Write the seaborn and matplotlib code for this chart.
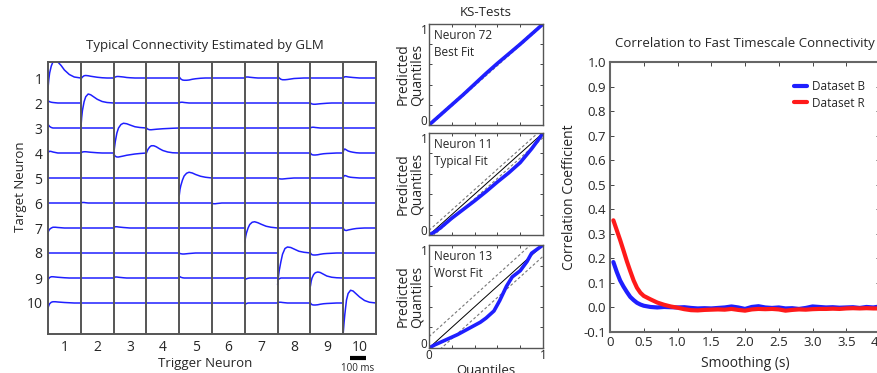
import matplotlib
matplotlib.use('Agg')
import matplotlib.pyplot as plt
import numpy as np
import pandas as pd
import seaborn as sns

# ===== DATA =====
TRIGGER = list(range(1, 11))
TARGET = list(range(1, 11))
COL_MS = 200  # each kernel covers 200 ms
LAG_MS = [0, 5, 10, 20, 30, 45, 60, 80, 100, 130, 160, 200]
FLAT = [0.0, 0.0, 0.0, 0.0, 0.0, 0.0, 0.0, 0.0, 0.0, 0.0, 0.0, 0.0]

# coupling kernels (in units of row spacing), keyed by trigger neuron
ROW_1 = {
    1: [-0.41, -0.05, 0.2, 0.48, 0.64, 0.68, 0.64, 0.5, 0.32, 0.14, 0.04, 0.0],
    2: [-0.05, 0.0, 0.04, 0.09, 0.1, 0.09, 0.07, 0.05, 0.03, 0.01, 0.0, 0.0],
    3: [0.0, 0.02, 0.04, 0.06, 0.06, 0.05, 0.04, 0.02, 0.01, 0.0, 0.0, 0.0],
    5: [0.05, 0.0, -0.04, -0.08, -0.09, -0.09, -0.08, -0.05, -0.03, -0.01, 0.0, 0.0],
    7: [0.0, 0.03, 0.04, 0.04, 0.03, 0.02, 0.01, 0.0, 0.0, 0.0, 0.0, 0.0],
    8: [0.07, 0.03, 0.0, -0.05, -0.07, -0.07, -0.06, -0.04, -0.02, -0.01, 0.0, 0.0],
    10: [0.0, 0.03, 0.05, 0.05, 0.04, 0.03, 0.02, 0.01, 0.0, 0.0, 0.0, 0.0],
}
ROW_2 = {
    1: [0.09, 0.07, 0.05, 0.03, 0.02, 0.01, 0.0, 0.0, 0.0, 0.0, 0.0, 0.0],
    2: [-1.05, -0.6, -0.3, 0.05, 0.25, 0.36, 0.33, 0.24, 0.15, 0.06, 0.02, 0.0],
    5: [0.0, 0.02, 0.03, 0.03, 0.02, 0.01, 0.0, 0.0, 0.0, 0.0, 0.0, 0.0],
    9: [0.0, -0.02, -0.04, -0.05, -0.05, -0.04, -0.03, -0.02, -0.01, 0.0, 0.0, 0.0],
}
ROW_3 = {
    1: [0.15, 0.1, 0.06, 0.02, 0.0, 0.0, 0.0, 0.0, 0.0, 0.0, 0.0, 0.0],
    3: [-1.1, -0.8, -0.55, -0.2, 0.0, 0.14, 0.19, 0.17, 0.12, 0.05, 0.02, 0.0],
    4: [0.0, -0.03, -0.05, -0.07, -0.07, -0.06, -0.05, -0.04, -0.03, -0.02, -0.01, 0.0],
    9: [0.0, 0.02, 0.03, 0.03, 0.02, 0.01, 0.0, 0.0, 0.0, 0.0, 0.0, 0.0],
}
ROW_4 = {
    1: [0.0, 0.05, 0.07, 0.06, 0.04, 0.02, 0.0, 0.0, 0.0, 0.0, 0.0, 0.0],
    2: [0.0, 0.02, 0.04, 0.05, 0.05, 0.04, 0.03, 0.02, 0.01, 0.0, 0.0, 0.0],
    3: [0.0, -0.08, -0.13, -0.16, -0.16, -0.14, -0.12, -0.09, -0.07, -0.04, -0.02, 0.0],
    4: [0.0, 0.08, 0.15, 0.24, 0.29, 0.29, 0.25, 0.17, 0.1, 0.04, 0.01, 0.0],
    9: [0.0, -0.04, -0.07, -0.08, -0.08, -0.07, -0.05, -0.03, -0.02, -0.01, 0.0, 0.0],
    10: [0.05, 0.14, 0.16, 0.12, 0.08, 0.05, 0.03, 0.01, 0.0, 0.0, 0.0, 0.0],
}
ROW_5 = {
    5: [-0.71, -0.45, -0.3, -0.08, 0.08, 0.19, 0.23, 0.2, 0.14, 0.07, 0.03, 0.0],
    8: [0.0, -0.02, -0.03, -0.04, -0.04, -0.03, -0.02, -0.01, 0.0, 0.0, 0.0, 0.0],
    10: [0.02, 0.08, 0.1, 0.08, 0.05, 0.03, 0.02, 0.01, 0.0, 0.0, 0.0, 0.0],
}
ROW_6 = {
    2: [0.0, 0.01, 0.02, 0.02, 0.01, 0.0, 0.0, 0.0, 0.0, 0.0, 0.0, 0.0],
    6: [0.0, -0.02, -0.03, -0.03, -0.02, -0.01, 0.0, 0.0, 0.0, 0.0, 0.0, 0.0],
}
ROW_7 = {
    1: [-0.18, -0.1, -0.05, 0.0, 0.03, 0.03, 0.02, 0.01, 0.0, 0.0, 0.0, 0.0],
    3: [0.0, 0.03, 0.05, 0.05, 0.04, 0.03, 0.02, 0.01, 0.0, 0.0, 0.0, 0.0],
    7: [-0.57, -0.35, -0.2, 0.0, 0.14, 0.23, 0.25, 0.21, 0.15, 0.07, 0.03, 0.0],
    10: [0.0, -0.06, -0.09, -0.1, -0.08, -0.06, -0.04, -0.02, -0.01, 0.0, 0.0, 0.0],
}
ROW_8 = {
    5: [0.0, -0.02, -0.03, -0.04, -0.04, -0.03, -0.02, -0.01, 0.0, 0.0, 0.0, 0.0],
    8: [-1.27, -0.95, -0.7, -0.35, -0.05, 0.18, 0.24, 0.22, 0.16, 0.07, 0.03, 0.0],
    9: [0.0, -0.04, -0.07, -0.08, -0.08, -0.07, -0.05, -0.03, -0.02, -0.01, 0.0, 0.0],
}
ROW_9 = {
    1: [-0.07, -0.02, 0.02, 0.05, 0.05, 0.04, 0.03, 0.02, 0.01, 0.0, 0.0, 0.0],
    3: [0.0, 0.02, 0.04, 0.04, 0.03, 0.02, 0.01, 0.0, 0.0, 0.0, 0.0, 0.0],
    5: [0.07, 0.05, 0.03, 0.01, 0.0, 0.0, 0.0, 0.0, 0.0, 0.0, 0.0, 0.0],
    7: [-0.07, -0.05, -0.03, -0.01, 0.0, 0.0, 0.0, 0.0, 0.0, 0.0, 0.0, 0.0],
    8: [-0.12, -0.06, -0.03, 0.0, 0.0, 0.0, 0.0, 0.0, 0.0, 0.0, 0.0, 0.0],
    9: [-0.33, -0.12, 0.0, 0.14, 0.21, 0.24, 0.22, 0.15, 0.08, 0.03, 0.01, 0.0],
}
ROW_10 = {
    1: [-0.2, -0.1, -0.03, 0.03, 0.05, 0.05, 0.04, 0.03, 0.02, 0.01, 0.0, 0.0],
    7: [-0.07, -0.04, -0.02, 0.0, 0.0, 0.0, 0.0, 0.0, 0.0, 0.0, 0.0, 0.0],
    8: [0.0, 0.02, 0.03, 0.03, 0.02, 0.01, 0.0, 0.0, 0.0, 0.0, 0.0, 0.0],
    9: [0.0, -0.04, -0.07, -0.08, -0.08, -0.07, -0.05, -0.03, -0.02, -0.01, 0.0, 0.0],
    10: [-1.22, -0.8, -0.45, 0.12, 0.38, 0.51, 0.48, 0.36, 0.24, 0.1, 0.03, 0.0],
}
ROWS = [ROW_1, ROW_2, ROW_3, ROW_4, ROW_5, ROW_6, ROW_7, ROW_8, ROW_9, ROW_10]

# KS plots
QUANT_72 = [0, 0.1, 0.2, 0.3, 0.4, 0.5, 0.6, 0.7, 0.8, 0.9, 1.0]
PRED_72 = [0, 0.1, 0.2, 0.3, 0.405, 0.51, 0.61, 0.705, 0.8, 0.9, 1.0]
QUANT_11 = [0, 0.05, 0.1, 0.2, 0.3, 0.4, 0.5, 0.6, 0.7, 0.8, 0.9, 0.95, 1.0]
PRED_11 = [0, 0.03, 0.07, 0.165, 0.25, 0.335, 0.425, 0.52, 0.61, 0.71, 0.845, 0.92, 1.0]
QUANT_13 = [0, 0.05, 0.15, 0.25, 0.35, 0.45, 0.5, 0.57, 0.62, 0.68, 0.73, 0.8, 0.86, 0.9, 0.95, 1.0]
PRED_13 = [0, 0.03, 0.08, 0.13, 0.19, 0.25, 0.29, 0.36, 0.46, 0.6, 0.69, 0.75, 0.84, 0.92, 0.96, 1.0]
KS_BAND = [0.012, 0.045, 0.11]
KS_LABELS = ['Neuron 72\nBest Fit', 'Neuron 11\nTypical Fit', 'Neuron 13\nWorst Fit']

# correlation vs smoothing
SMOOTH_S = [0.05, 0.1, 0.15, 0.2, 0.25, 0.3, 0.35, 0.4, 0.45, 0.5, 0.6, 0.7, 0.8, 0.9,
            1.0, 1.1, 1.2, 1.3, 1.4, 1.5, 1.6, 1.7, 1.8, 1.9, 2.0, 2.1, 2.2, 2.3, 2.4,
            2.5, 2.6, 2.7, 2.8, 2.9, 3.0, 3.1, 3.2, 3.3, 3.4, 3.5, 3.6, 3.7, 3.8, 3.9, 4.0]
CORR_B = [0.185, 0.145, 0.11, 0.085, 0.063, 0.043, 0.03, 0.019, 0.012, 0.007, 0.002, 0.0,
          0.002, 0.001, 0.0, 0.001, -0.002, -0.004, -0.003, -0.004, -0.002, 0.0, 0.004,
          0.0, -0.006, 0.002, 0.005, 0.0, -0.002, 0.0, -0.004, -0.003, -0.006, -0.002,
          0.004, 0.002, 0.0, 0.001, -0.001, 0.0, 0.001, -0.002, 0.002, 0.0, 0.004]
CORR_R = [0.355, 0.315, 0.275, 0.232, 0.188, 0.148, 0.11, 0.08, 0.06, 0.047, 0.033, 0.02,
          0.011, 0.004, -0.001, -0.007, -0.011, -0.012, -0.01, -0.009, -0.008, -0.009,
          -0.006, -0.01, -0.013, -0.008, -0.006, -0.007, -0.006, -0.008, -0.013, -0.01,
          -0.008, -0.009, -0.007, -0.006, -0.006, -0.005, -0.006, -0.004, -0.003, -0.004,
          -0.003, -0.004, -0.004]

BLUE = '#1f1fff'
RED = '#ff1a1a'
FONT = ['Open Sans', 'DejaVu Sans']

sns.set_style('ticks')
plt.rcParams['font.family'] = FONT

W, H = 877, 373
fig = plt.figure(figsize=(W / 100, H / 100), dpi=100)


def px_axes(left, top, right, bottom):
    return fig.add_axes([left / W, 1 - bottom / H, (right - left) / W, (bottom - top) / H])


# ----- connectivity grid -----
rec = []
for target, kernels in zip(TARGET, ROWS):
    for trigger in TRIGGER:
        vals = kernels.get(trigger, FLAT)
        for lag, v in zip(LAG_MS, vals):
            rec.append({'cell': f'{target}-{trigger}',
                        'time': (trigger - 1) * COL_MS + lag,
                        'level': target - v})
grid = pd.DataFrame(rec)

ax = px_axes(48, 62, 376, 334)
sns.lineplot(data=grid, x='time', y='level', units='cell', estimator=None,
             sort=False, color=BLUE, lw=1.1, ax=ax)
for k in range(1, 10):
    ax.axvline(k * COL_MS, color='#555555', lw=1.4, zorder=3)
ax.set_xlim(0, 10 * COL_MS)
ax.set_ylim(11.24, 0.36)
ax.set_xticks([(t - 0.5) * COL_MS for t in TRIGGER], [str(t) for t in TRIGGER])
ax.set_yticks(TARGET, [str(t) for t in TARGET])
ax.tick_params(length=0, labelsize=10, pad=4)
for s in ax.spines.values():
    s.set_color('#555555')
    s.set_linewidth(1.4)
ax.set_xlabel('Trigger Neuron', fontsize=9.5)
ax.set_ylabel('Target Neuron', fontsize=9.5)
ax.xaxis.set_label_coords(0.479, -0.086)
ax.yaxis.set_label_coords(-0.064, 0.54)
ax.plot([1840, 1940], [12.2, 12.2], color='black', lw=3, clip_on=False,
        solid_capstyle='butt')
ax.text(1890, 12.62, '100 ms', ha='center', va='center', fontsize=7)
fig.text(205 / W, 1 - 45 / H, 'Typical Connectivity Estimated by GLM',
         ha='center', va='center', fontsize=9.5)

# ----- KS plots -----
ks_boxes = [(24, 125), (133, 235), (245, 348)]
ks_data = [(QUANT_72, PRED_72), (QUANT_11, PRED_11), (QUANT_13, PRED_13)]
for i, ((top, bot), (qx, qy)) in enumerate(zip(ks_boxes, ks_data)):
    a = px_axes(429, top, 543, bot)
    band = KS_BAND[i]
    a.plot([0, 1], [0, 1], color='black', lw=0.7)
    a.plot([0, 1], [band, 1 + band], color='#777777', lw=0.8, ls=(0, (2.5, 2)))
    a.plot([0, 1], [-band, 1 - band], color='#777777', lw=0.8, ls=(0, (2.5, 2)))
    sns.lineplot(x=qx, y=qy, sort=False, color=BLUE, lw=2.6, ax=a)
    a.set_xlim(0, 1)
    a.set_ylim(0, 1)
    a.set_xticks([0, 1], ['0', '1'])
    a.set_yticks([0, 1], ['0', '1'])
    a.set_xticks([0.2, 0.4, 0.6, 0.8], minor=True)
    a.set_yticks([0.2, 0.4, 0.6, 0.8], minor=True)
    a.tick_params(which='both', direction='in', top=True, right=True,
                  length=2.5, width=0.6, labelsize=8.5, pad=1)
    ylab = a.get_yticklabels()
    ylab[0].set_va('baseline')
    ylab[1].set_va('top')
    if i < 2:
        a.tick_params(labelbottom=False)
    for s in a.spines.values():
        s.set_color('#555555')
        s.set_linewidth(1.0)
    a.set_ylabel('Predicted\nQuantiles', fontsize=10, linespacing=0.85, va='center')
    a.yaxis.set_label_coords(-0.165, 0.5)
    a.text(0.04, 0.95, KS_LABELS[i], transform=a.transAxes, ha='left', va='top',
           fontsize=8.5, linespacing=1.35)
    if i == 2:
        a.set_xlabel('Quantiles', fontsize=9.5, labelpad=1)
fig.text(486 / W, 1 - 12 / H, 'KS-Tests', ha='center', va='center', fontsize=9.5)

# ----- correlation vs smoothing -----
corr = pd.DataFrame({
    'smoothing': SMOOTH_S * 2,
    'corr': CORR_B + CORR_R,
    'dataset': ['Dataset B'] * len(SMOOTH_S) + ['Dataset R'] * len(SMOOTH_S),
})
ar = px_axes(610, 62, 880, 332)
sns.lineplot(data=corr, x='smoothing', y='corr', hue='dataset',
             palette={'Dataset B': BLUE, 'Dataset R': RED}, lw=3, ax=ar)
ar.set_xlim(0, 4)
ar.set_ylim(-0.1, 1.0)
ar.set_xticks(np.arange(0, 4.01, 0.5),
              ['0', '0.5', '1.0', '1.5', '2.0', '2.5', '3.0', '3.5', '4.0'])
ar.set_yticks(np.round(np.arange(-0.1, 1.01, 0.1), 1),
              [f'{v:.1f}' for v in np.arange(-0.1, 1.01, 0.1)])
ar.tick_params(direction='in', top=True, right=True, length=3, width=0.6,
               labelsize=9.5, pad=3)
for s in ar.spines.values():
    s.set_color('#666666')
    s.set_linewidth(1.5)
ar.set_xlabel('Smoothing (s)', fontsize=10)
ar.set_ylabel('Correlation Coefficient', fontsize=10)
ar.xaxis.set_label_coords(0.5, -0.088)
ar.yaxis.set_label_coords(-0.122, 0.5)
ar.legend(loc='upper left', bbox_to_anchor=(0.66, 0.955), frameon=False,
          fontsize=8.5, handlelength=1.1, handletextpad=0.4, borderpad=0,
          labelspacing=0.3)
fig.text(745 / W, 1 - 43 / H, 'Correlation to Fast Timescale Connectivity',
         ha='center', va='center', fontsize=9.5)

fig.savefig('out.png', dpi=100)
